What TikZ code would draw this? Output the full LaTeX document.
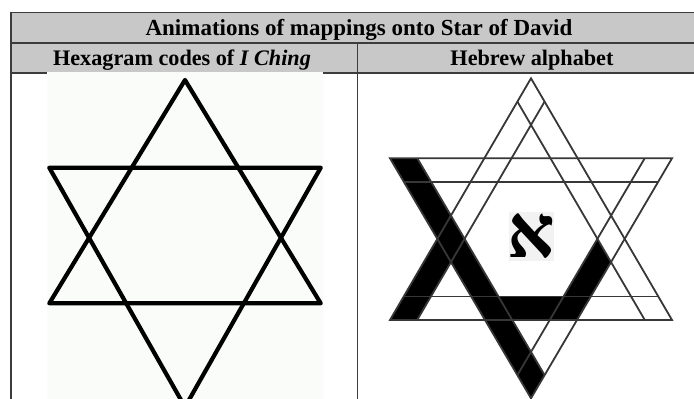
\documentclass[tikz,border=0pt]{standalone}
\usepackage{fontspec}
\setmainfont{Liberation Serif}
\newfontfamily\hebfont[Script=Hebrew]{Liberation Serif}
\TeXXeTstate=1
\usetikzlibrary{calc}
\definecolor{hdrgray}{RGB}{200,200,200}
\definecolor{rulegray}{RGB}{60,60,60}
\definecolor{bandgray}{RGB}{55,55,55}
\definecolor{paper}{RGB}{250,252,250}

\begin{document}
\begin{tikzpicture}[x=1pt, y=-1pt,
    cell/.style={draw=rulegray, line width=1.2pt},
    hdr/.style={font=\bfseries\fontsize{23}{23}\selectfont, inner sep=0pt, anchor=base},
    subhdr/.style={font=\bfseries\fontsize{22.2}{22.2}\selectfont, inner sep=0pt, anchor=base},
    boldstar/.style={line width=4.2pt, line join=round, line cap=round},
    bandline/.style={draw=bandgray, line width=1.8pt},
    ink/.style={fill=black}]
  \useasboundingbox (0,0) rectangle (694,399);
  % table frame and headers
  \fill[hdrgray] (11,12.7) rectangle (700,73);
  \draw[cell] (700,12.7) -- (11,12.7) -- (11,400);
  \draw[cell] (11,43) -- (700,43);
  \draw[cell] (11,73) -- (700,73);
  \draw[cell] (357.5,43) -- (357.5,400);
  \node[hdr] (title) at (359,35.5) {Animations of mappings onto Star of David};
  \node[subhdr] (iching) at (182,65.5) {Hexagram codes of \textit{I Ching}};
  \node[subhdr] (hebrew) at (532,65.5) {Hebrew alphabet};
  % plain star
  \fill[paper] (47,72) rectangle (323,400);
  \draw[boldstar] (185,80) -- (49.3,303.3) -- (320.7,303.3) -- cycle;
  \draw[boldstar] (49.3,167.7) -- (320.7,167.7) -- (185,407) -- cycle;
  % banded star: outer corners
  \coordinate (uA) at (531,78.3);
  \coordinate (uL) at (390,320);
  \coordinate (uR) at (672,320);
  \coordinate (dL) at (390,158.3);
  \coordinate (dR) at (672,158.3);
  \coordinate (dB) at (531,398.3);
  % black strokes of the letter
  \fill[ink] (dL) -- (417.3,158.3) -- (544.6,375.1) -- (dB) -- cycle;
  \fill[ink] (450.9,215.6) -- (464.6,238.8) -- (417.2,320) -- (uL) -- cycle;
  \fill[ink] (498.5,296.5) -- (563.5,296.5) -- (549.7,320) -- (512.3,320) -- cycle;
  \fill[ink] (597.45,238.8) -- (611.0,262.1) -- (577.0,320) -- (549.7,320) -- cycle;
  % outlines
  \draw[bandline] (uA) -- (uL) -- (uR) -- cycle;
  \draw[bandline] (dL) -- (dR) -- (dB) -- cycle;
  \foreach \p/\q in {{403.7,296.5}/{658.3,296.5}, {544.6,101.6}/{417.2,320},
                     {517.4,101.6}/{644.8,320}, {403.8,181.8}/{658.2,181.8},
                     {417.3,158.3}/{544.6,375.1}, {644.7,158.3}/{517.4,375.1}}
    \draw[bandline] (\p) -- (\q);
  % the letter itself
  \fill[black!5] (509,212) rectangle (554,261);
  \node[inner sep=0pt] (aleph) at (531,236.5)
    {\hebfont\bfseries\fontsize{74}{74}\selectfont\beginR א\endR};
\end{tikzpicture}
\end{document}
